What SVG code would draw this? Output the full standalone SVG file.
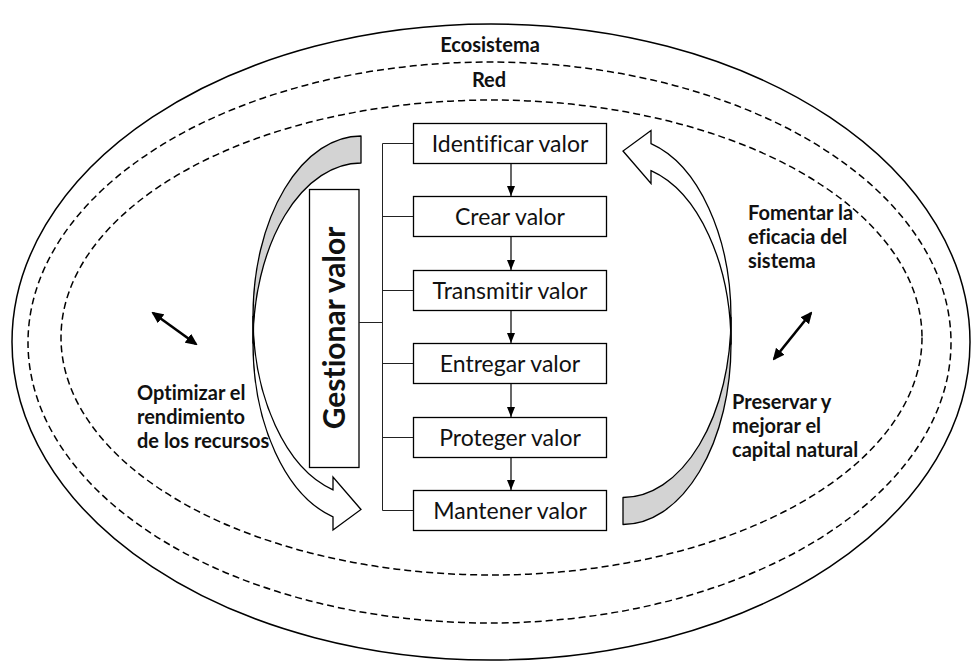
<svg xmlns="http://www.w3.org/2000/svg" width="971" height="661" viewBox="0 0 971 661">
  <style>
    text { font-variant-ligatures: none; }
    .ring { fill: none; stroke: #000; stroke-width: 1.5; }
    .dash { stroke-dasharray: 7 4; }
    .box { fill: #fff; stroke: #000; stroke-width: 1.3; }
    .step { font-family: Lato, "Liberation Sans", sans-serif; font-size: 23px; fill: #111; text-anchor: middle; }
    .lbl { font-family: Lato, "Liberation Sans", sans-serif; font-size: 20px; font-weight: bold; fill: #111; }
    .mid { text-anchor: middle; }
    .tie { fill: none; stroke: #222; stroke-width: 1; }
    .flow { fill: none; stroke: #000; stroke-width: 1.2; marker-end: url(#tri); }
    .dbl { fill: none; stroke: #000; stroke-width: 2.6; marker-start: url(#head); marker-end: url(#head); }
    .back { fill: #d3d3d3; stroke: #000; stroke-width: 1.3; stroke-linejoin: round; }
    .front { fill: #fff; stroke: #000; stroke-width: 1.3; stroke-linejoin: miter; }
  </style>
  <defs>
    <marker id="tri" markerUnits="userSpaceOnUse" markerWidth="10" markerHeight="8" refX="10" refY="4" orient="auto">
      <path d="M0,0 L10,4 L0,8 Z" fill="#000"/>
    </marker>
    <marker id="head" markerUnits="userSpaceOnUse" markerWidth="12" markerHeight="11" refX="10" refY="5.5" orient="auto-start-reverse">
      <path d="M0,0 L12,5.5 L0,11 Z" fill="#000"/>
    </marker>
    <!-- curved block arrow: shaded back face, then the white front face with its head -->
    <g id="curved">
      <path class="back" d="M361,136 A108,180 0 0 0 253,316 L253,343 A108,180 0 0 1 361,163 Z"/>
      <path class="front" d="M253,316 A108,180 0 0 0 333,489.8 L333,477 L361,509.5 L333,530 L333,516.8 A108,180 0 0 1 253,343 Z"/>
    </g>
  </defs>

  <!-- nested scopes -->
  <g id="ecosistema">
    <ellipse class="ring" cx="491" cy="342" rx="479" ry="318"/>
    <text class="lbl mid" x="490" y="52">Ecosistema</text>
  </g>
  <g id="red">
    <ellipse class="ring dash" cx="489.5" cy="342.5" rx="461.5" ry="280.5"/>
    <text class="lbl mid" x="489" y="87">Red</text>
  </g>
  <ellipse class="ring dash" cx="491.5" cy="337.5" rx="430.5" ry="237.5"/>

  <!-- curved arrows around the value chain -->
  <g id="arrow-left"><use href="#curved"/></g>
  <g id="arrow-right"><use href="#curved" transform="rotate(180 492 330.25)"/></g>

  <!-- management box -->
  <g id="gestionar">
    <rect class="box" x="309.5" y="189.5" width="49.5" height="278"/>
    <text class="lbl mid" style="font-size:30px" transform="translate(345 328) rotate(-90)">Gestionar valor</text>
  </g>

  <!-- value steps -->
  <g id="identificar">
    <rect class="box" x="413.5" y="123.5" width="193" height="40"/>
    <text class="step" x="510" y="152">Identificar valor</text>
  </g>
  <g id="crear">
    <rect class="box" x="413.5" y="196.5" width="193" height="40"/>
    <text class="step" x="510" y="225">Crear valor</text>
  </g>
  <g id="transmitir">
    <rect class="box" x="413.5" y="270.5" width="193" height="40"/>
    <text class="step" x="510" y="299">Transmitir valor</text>
  </g>
  <g id="entregar">
    <rect class="box" x="413.5" y="343.5" width="193" height="40"/>
    <text class="step" x="510" y="372">Entregar valor</text>
  </g>
  <g id="proteger">
    <rect class="box" x="413.5" y="417.5" width="193" height="40"/>
    <text class="step" x="510" y="446">Proteger valor</text>
  </g>
  <g id="mantener">
    <rect class="box" x="413.5" y="490.5" width="193" height="40"/>
    <text class="step" x="510" y="519">Mantener valor</text>
  </g>

  <!-- side labels -->
  <g id="optimizar">
    <text class="lbl" x="137" y="400">Optimizar el</text>
    <text class="lbl" x="137" y="424">rendimiento</text>
    <text class="lbl" x="137" y="448">de los recursos</text>
  </g>
  <g id="fomentar">
    <text class="lbl" x="748" y="220">Fomentar la</text>
    <text class="lbl" x="748" y="244">eficacia del</text>
    <text class="lbl" x="748" y="268">sistema</text>
  </g>
  <g id="preservar">
    <text class="lbl" x="732" y="409">Preservar y</text>
    <text class="lbl" x="732" y="433">mejorar el</text>
    <text class="lbl" x="732" y="457">capital natural</text>
  </g>

  <!-- connectors -->
  <g id="connectors">
    <path class="tie" d="M382.5,143.5 V510.5 M382.5,143.5 H413 M382.5,216.5 H413 M382.5,290.5 H413 M382.5,363.5 H413 M382.5,437.5 H413 M382.5,510.5 H413 M359,322.5 H382.5"/>
    <line class="flow" x1="511" y1="164" x2="511" y2="196"/>
    <line class="flow" x1="511" y1="237" x2="511" y2="270"/>
    <line class="flow" x1="511" y1="311" x2="511" y2="343"/>
    <line class="flow" x1="511" y1="384" x2="511" y2="417"/>
    <line class="flow" x1="511" y1="458" x2="511" y2="490"/>
    <line class="dbl" x1="153" y1="313" x2="196" y2="344"/>
    <line class="dbl" x1="774" y1="359" x2="811" y2="313"/>
  </g>
</svg>
